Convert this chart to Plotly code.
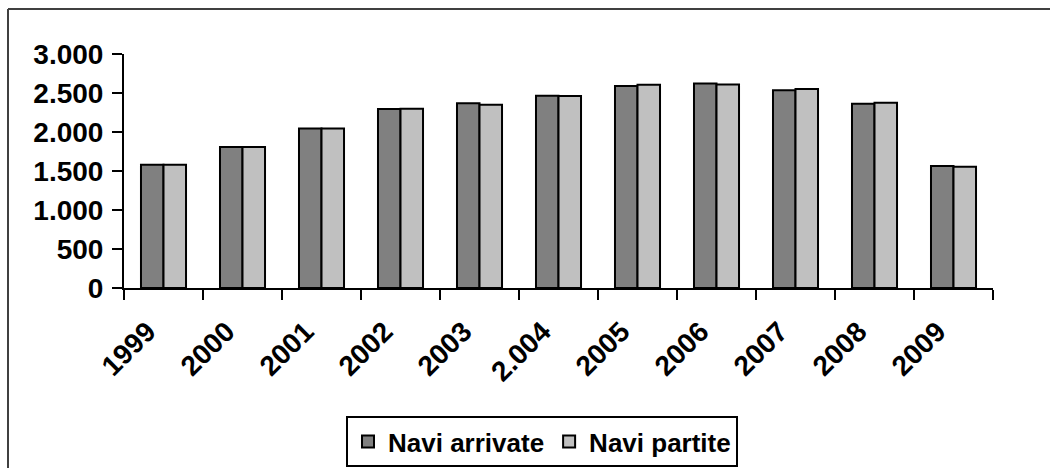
import plotly.graph_objects as go

# Ship traffic per year
years = ["1999", "2000", "2001", "2002", "2003", "2.004", "2005", "2006", "2007", "2008", "2009"]
navi_arrivate = [1581, 1808, 2046, 2295, 2367, 2465, 2590, 2623, 2536, 2363, 1565]
navi_partite = [1581, 1808, 2044, 2299, 2350, 2462, 2607, 2610, 2551, 2376, 1555]
y_ticks = [0, 500, 1000, 1500, 2000, 2500, 3000]

FONT = "Liberation Sans, Arial, sans-serif"

fig = go.Figure()
fig.add_trace(go.Bar(
    x=years, y=navi_arrivate, name="Navi arrivate",
    marker=dict(color="#808080", line=dict(color="black", width=2)),
))
fig.add_trace(go.Bar(
    x=years, y=navi_partite, name="Navi partite",
    marker=dict(color="#C0C0C0", line=dict(color="black", width=2)),
))

# plot area: x 124..993 px, y 54..288 px
L, R, T, B = 124, 57, 54, 180
W, H = 1050, 468
pw, ph = W - L - R, H - T - B


def px_x(p):
    return (p - L) / pw


def px_y(p):
    return (H - B - p) / ph


fig.update_layout(
    width=W, height=H,
    margin=dict(l=L, r=R, t=T, b=B, pad=0, autoexpand=False),
    paper_bgcolor="white", plot_bgcolor="white",
    barmode="group", bargap=0.43, bargroupgap=0,
    separators=",.",
    font=dict(family=FONT, size=26, color="black", weight="bold"),
    xaxis=dict(
        type="category", tickangle=-45, tickson="boundaries", automargin=False,
        ticks="outside", ticklen=10, tickwidth=2, tickcolor="black",
        showline=True, linecolor="black", linewidth=2,
        showgrid=False, zeroline=False,
        ticklabelstandoff=14, ticklabelshift=-16,
        tickfont=dict(family=FONT, size=28, weight="bold"),
    ),
    yaxis=dict(
        range=[0, 3000], tickvals=y_ticks, tickformat=",d", automargin=False,
        ticks="outside", ticklen=10, tickwidth=2, tickcolor="black",
        showline=True, linecolor="black", linewidth=2,
        showgrid=False, zeroline=False, ticklabelstandoff=3,
        tickfont=dict(family=FONT, size=28, weight="bold"),
    ),
    legend=dict(
        orientation="h", xref="container", yref="container",
        x=542 / W, xanchor="center", y=1 - 416 / H, yanchor="top",
        bgcolor="white", bordercolor="black", borderwidth=2,
        font=dict(family=FONT, size=26, weight="bold"),
    ),
    # outer chart frame: only the left and top edges fall inside the canvas
    shapes=[
        dict(type="line", xref="paper", yref="paper",
             x0=px_x(8), x1=px_x(8), y0=px_y(470), y1=px_y(9),
             line=dict(color="#404040", width=2), layer="below"),
        dict(type="line", xref="paper", yref="paper",
             x0=px_x(8), x1=px_x(1052), y0=px_y(9), y1=px_y(9),
             line=dict(color="#404040", width=2), layer="below"),
    ],
)

fig.write_html("out.html")
